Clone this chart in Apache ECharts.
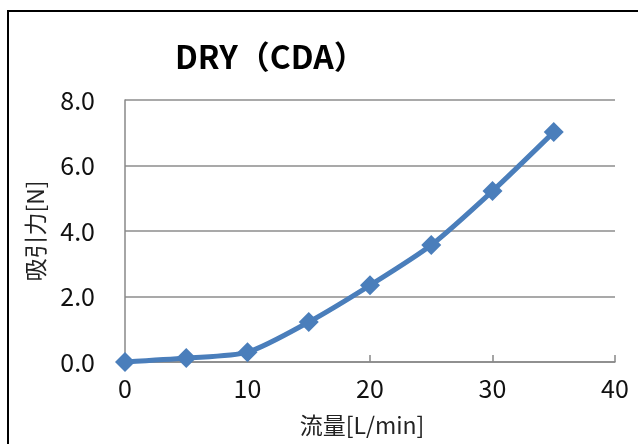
<!DOCTYPE html>
<html><head><meta charset="utf-8">
<script src="https://cdn.jsdelivr.net/npm/echarts@6/dist/echarts.min.js"></script>
<style>html,body{margin:0;padding:0;background:#fff}#c{width:638px;height:444px}</style>
</head><body><div id="c"></div>
<script>
const titleText = 'DRY（CDA）';
const xName = '流量[L/min]';
const yName = '吸引力[N]';
const flow = [0, 5, 10, 15, 20, 25, 30, 35];
const force = [0.0, 0.12, 0.3, 1.22, 2.34, 3.57, 5.22, 7.02];

const chart = echarts.init(document.getElementById('c'));
const font = '"Noto Sans CJK JP", "Noto Sans", sans-serif';
chart.setOption({
  animation: false,
  backgroundColor: '#fff',
  graphic: [
    { type: 'rect', shape: { x: 8, y: 11, width: 700, height: 500 }, style: { fill: 'none', stroke: '#000', lineWidth: 2 }, z: 0 },
    { type: 'text', left: 175, top: 41, style: { text: titleText, font: 'bold 32px ' + font, fill: '#000' } }
  ],
  grid: { left: 125, right: 23, top: 100, bottom: 82 },
  xAxis: {
    type: 'value', min: 0, max: 40, interval: 10,
    name: xName, nameLocation: 'middle', nameGap: 52,
    nameTextStyle: { fontSize: 23, color: '#222', fontFamily: font, padding: [0, 16, 0, 0] },
    axisLine: { show: true, lineStyle: { color: '#888', width: 1.5 } },
    axisTick: { show: true, inside: true, length: 7, lineStyle: { color: '#888', width: 1.5 } },
    axisLabel: { fontSize: 25, color: '#111', margin: 14, fontFamily: font },
    splitLine: { show: false }
  },
  yAxis: {
    type: 'value', min: 0, max: 8, interval: 2,
    name: yName, nameLocation: 'middle', nameGap: 78, nameRotate: 90,
    nameTextStyle: { fontSize: 23, color: '#222', fontFamily: font },
    axisLine: { show: true, lineStyle: { color: '#888', width: 1.5 } },
    axisTick: { show: false },
    axisLabel: { fontSize: 25, color: '#111', margin: 30, fontFamily: font, formatter: v => v.toFixed(1) },
    splitLine: { show: true, lineStyle: { color: '#8c8c8c', width: 1.5 } }
  },
  series: [{
    type: 'line', smooth: 0.25,
    data: flow.map((x, i) => [x, force[i]]),
    symbol: 'diamond', symbolSize: 20,
    lineStyle: { color: '#4a7ebb', width: 5 },
    itemStyle: { color: '#4a7ebb' }
  }]
});
</script></body></html>
